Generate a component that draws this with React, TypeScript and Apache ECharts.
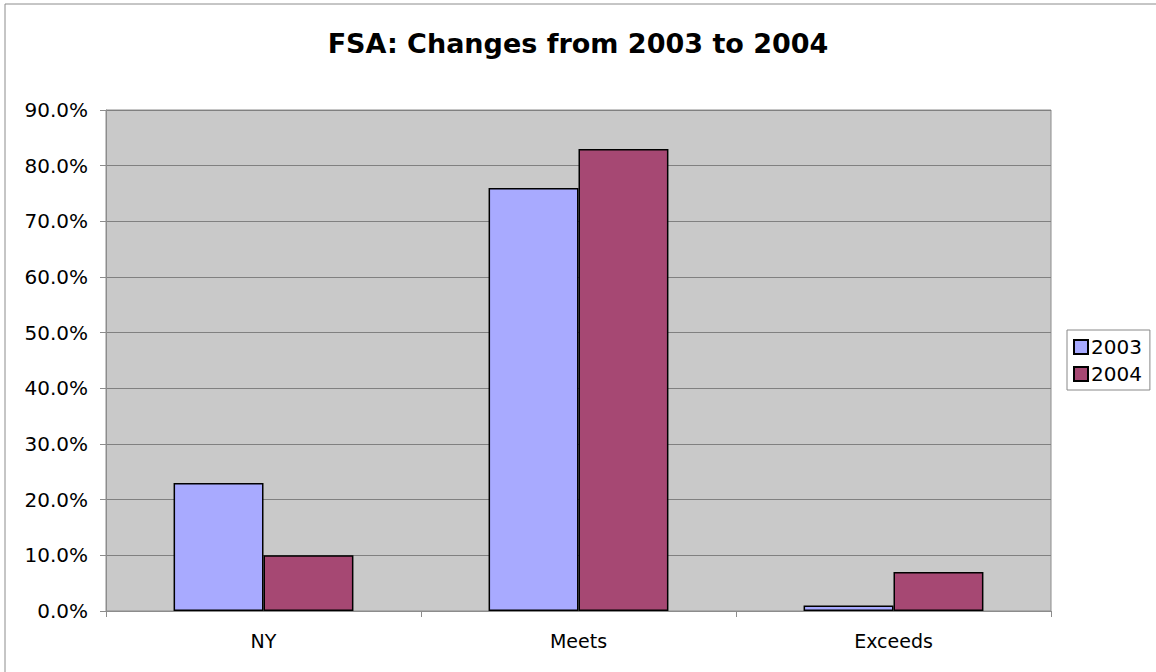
import React, { useEffect, useRef } from "react";
import * as echarts from "echarts";

const categories = ["NY", "Meets", "Exceeds"];
const series2003 = [23, 76, 1];
const series2004 = [10, 83, 7];
const seriesNames = ["2003", "2004"];
const titleText = "FSA: Changes from 2003 to 2004";

export default function App() {
  const ref = useRef<HTMLDivElement>(null);
  useEffect(() => {
    document.body.style.margin = "0";
    const chart = echarts.init(ref.current!, null, { renderer: "svg" });
    const font = "DejaVu Sans";
    chart.setOption({
      animation: false,
      backgroundColor: "#ffffff",
      textStyle: { fontFamily: font },
      title: {
        text: titleText,
        left: "center",
        top: 25,
        textStyle: { fontFamily: font, fontSize: 27, fontWeight: "bold", color: "#000" },
      },
      graphic: [
        {
          type: "rect",
          shape: { x: 5, y: 4, width: 1200, height: 700 },
          style: { fill: "none", stroke: "#8c8c8c", lineWidth: 1 },
          silent: true,
        },
      ],
      legend: {
        orient: "vertical",
        left: 1067,
        top: 330,
        itemWidth: 14,
        itemHeight: 14,
        itemGap: 7,
        padding: [7, 8, 6, 6],
        borderColor: "#888",
        borderWidth: 1,
        icon: "rect",
        textStyle: { fontFamily: font, fontSize: 20, color: "#000", padding: [0, 0, 0, -2] },
        data: seriesNames,
      },
      grid: { left: 106, right: 105, top: 110, bottom: 61, show: true, backgroundColor: "#c9c9c9", borderColor: "#8c8c8c", borderWidth: 1 },
      xAxis: {
        type: "category",
        data: categories,
        axisLine: { show: true, lineStyle: { color: "#8c8c8c" } },
        axisTick: { show: true, length: 6, lineStyle: { color: "#8c8c8c" } },
        axisLabel: { fontFamily: font, fontSize: 19, color: "#000", margin: 20 },
      },
      yAxis: {
        type: "value",
        min: 0,
        max: 90,
        interval: 10,
        axisLine: { show: true, lineStyle: { color: "#8c8c8c" } },
        axisTick: { show: true, length: 6, lineStyle: { color: "#8c8c8c" } },
        splitLine: { show: true, lineStyle: { color: "#808080", width: 1 } },
        axisLabel: {
          fontFamily: font,
          fontSize: 20,
          color: "#000",
          margin: 18,
          formatter: (v: number) => v.toFixed(1) + "%",
        },
      },
      series: [
        {
          name: seriesNames[0],
          type: "bar",
          data: series2003,
          barGap: "0%",
          barCategoryGap: "42.9%",
          itemStyle: { color: "#a8aaff", borderColor: "#000", borderWidth: 1.5 },
        },
        {
          name: seriesNames[1],
          type: "bar",
          data: series2004,
          barGap: "0%",
          barCategoryGap: "42.9%",
          itemStyle: { color: "#a64873", borderColor: "#000", borderWidth: 1.5 },
        },
      ],
    });
    return () => chart.dispose();
  }, []);
  return <div ref={ref} style={{ width: 1156, height: 672 }} />;
}
